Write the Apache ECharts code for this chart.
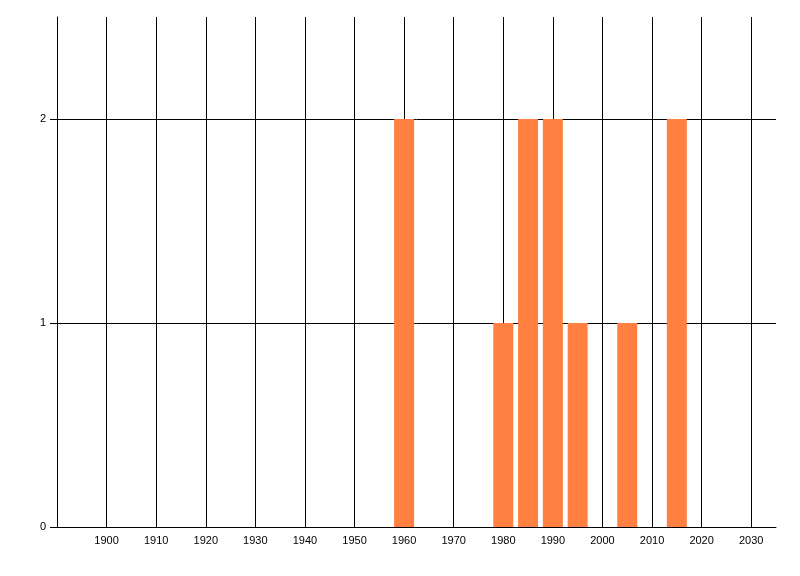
<!DOCTYPE html>
<html>
<head>
<meta charset="utf-8">
<style>html,body{margin:0;padding:0;background:#fff}#c{width:800px;height:576px}</style>
<script src="https://cdn.jsdelivr.net/npm/echarts@6/dist/echarts.min.js"></script>
</head>
<body>
<div id="c"></div>
<script>
const years = [1960, 1980, 1985, 1990, 1995, 2005, 2015];
const counts = [2, 1, 2, 2, 1, 1, 2];
const yTicks = [0, 1, 2];

const chart = echarts.init(document.getElementById('c'), null, {renderer: 'canvas'});
chart.setOption({
  animation: false,
  backgroundColor: '#ffffff',
  grid: {left: 57, right: 24, top: 17, bottom: 49, containLabel: false},
  xAxis: {
    type: 'value', min: 1890, max: 2035, interval: 10,
    axisLine: {show: true, lineStyle: {color: '#000', width: 1}},
    axisTick: {show: false},
    axisLabel: {
      color: '#000', fontFamily: 'Liberation Sans', fontSize: 11, margin: 8,
      showMaxLabel: false,
      formatter: v => (v === 1890 || v === 2035) ? '' : String(v)
    },
    splitLine: {show: true, showMaxLine: false, lineStyle: {color: '#000', width: 1}}
  },
  yAxis: {
    type: 'value', min: 0, max: 2.5, interval: 1,
    axisLine: {show: true, lineStyle: {color: '#000', width: 1}},
    axisTick: {show: true, length: 7, customValues: yTicks, lineStyle: {color: '#000'}},
    axisLabel: {
      color: '#000', fontFamily: 'Liberation Sans', fontSize: 11, margin: 11,
      customValues: yTicks,
      formatter: v => yTicks.includes(v) ? String(v) : ''
    },
    splitLine: {show: true, showMaxLine: true, lineStyle: {color: '#000', width: 1}}
  },
  series: [{
    type: 'bar',
    barWidth: 20,
    itemStyle: {color: '#FF8040'},
    data: years.map((y, i) => [y, counts[i]])
  }]
});
</script>
</body>
</html>
